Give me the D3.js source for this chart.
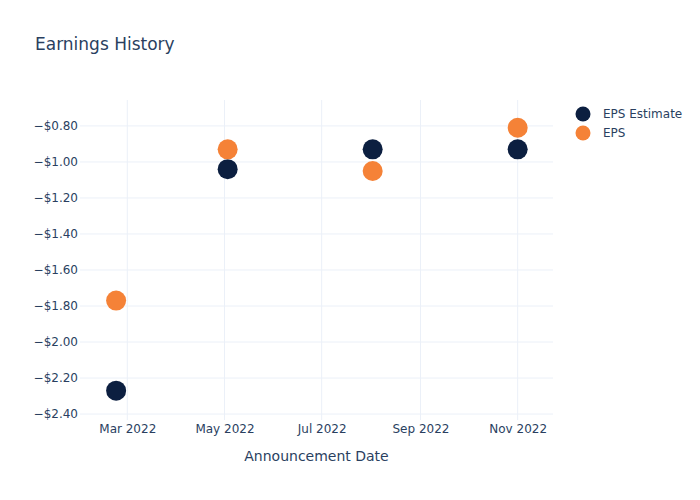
<!DOCTYPE html>
<html>
<head>
<meta charset="utf-8">
<script src="https://cdn.jsdelivr.net/npm/d3@7"></script>
<style>
  body { margin: 0; background: #fff; }
  svg text { font-family: "DejaVu Sans", sans-serif; fill: #2a3f5f; }
</style>
</head>
<body>
<div id="chart"></div>
<script>
const dates = ["2022-02-22", "2022-05-03", "2022-08-02", "2022-11-01"];
const epsEstimate = [-2.27, -1.04, -0.93, -0.93];
const eps = [-1.77, -0.93, -1.05, -0.81];
const seriesNames = ["EPS Estimate", "EPS"];
const seriesColors = ["#0c1f40", "#f58237"];
const yTicks = [-0.8, -1.0, -1.2, -1.4, -1.6, -1.8, -2.0, -2.2, -2.4];
const xTicks = ["2022-03-01", "2022-05-01", "2022-07-01", "2022-09-01", "2022-11-01"];

const W = 700, H = 500;
const margin = {l: 80, r: 147, t: 100, b: 80};
const parse = d3.utcParse("%Y-%m-%d");

const svg = d3.select("#chart").append("svg").attr("width", W).attr("height", H);

const x = d3.scaleUtc()
  .domain([Date.UTC(2022, 0, 30, 8), Date.UTC(2022, 10, 23, 4)])
  .range([margin.l, W - margin.r]);
const y = d3.scaleLinear()
  .domain([-2.433, -0.656])
  .range([H - margin.b, margin.t]);

const grid = svg.append("g");
grid.selectAll("line.h").data(yTicks).enter().append("line")
  .attr("x1", margin.l).attr("x2", W - margin.r)
  .attr("y1", d => y(d)).attr("y2", d => y(d))
  .attr("stroke", "#ebf0f8").attr("stroke-width", 1);
grid.selectAll("line.v").data(xTicks).enter().append("line")
  .attr("x1", d => x(parse(d))).attr("x2", d => x(parse(d)))
  .attr("y1", margin.t).attr("y2", H - margin.b)
  .attr("stroke", "#ebf0f8").attr("stroke-width", 1);

const fmtY = d => "\u2212$" + Math.abs(d).toFixed(2);
const yAxis = d3.axisLeft(y).tickValues(yTicks).tickFormat(fmtY).tickSize(0).tickPadding(2);
const gy = svg.append("g").attr("transform", `translate(${margin.l},0)`).call(yAxis);
gy.select(".domain").remove();
gy.selectAll("text").style("font-size", "12px").attr("fill", "#2a3f5f");

const xAxis = d3.axisBottom(x).tickValues(xTicks.map(parse)).tickFormat(d3.utcFormat("%b %Y")).tickSize(0);
const gx = svg.append("g").attr("transform", `translate(0,${H - margin.b})`).call(xAxis);
gx.select(".domain").remove();
gx.selectAll("text").style("font-size", "12px").attr("fill", "#2a3f5f")
  .attr("y", 13).attr("dy", 0);

svg.append("text").attr("x", (margin.l + W - margin.r) / 2).attr("y", 461)
  .attr("text-anchor", "middle").style("font-size", "14px").text("Announcement Date");

svg.append("text").attr("x", 35).attr("y", 50)
  .style("font-size", "17px").text("Earnings History");

const seriesData = [epsEstimate, eps];
seriesData.forEach((vals, i) => {
  svg.append("g").selectAll("circle").data(vals).enter().append("circle")
    .attr("cx", (d, j) => x(parse(dates[j])))
    .attr("cy", d => y(d))
    .attr("r", 10)
    .attr("fill", seriesColors[i]);
});

const legend = svg.append("g");
seriesNames.forEach((name, i) => {
  const ly = 114 + i * 19;
  legend.append("circle").attr("cx", 583).attr("cy", ly).attr("r", 7.5).attr("fill", seriesColors[i]);
  legend.append("text").attr("x", 603).attr("y", ly + 4).style("font-size", "12px").text(name);
});
</script>
</body>
</html>
